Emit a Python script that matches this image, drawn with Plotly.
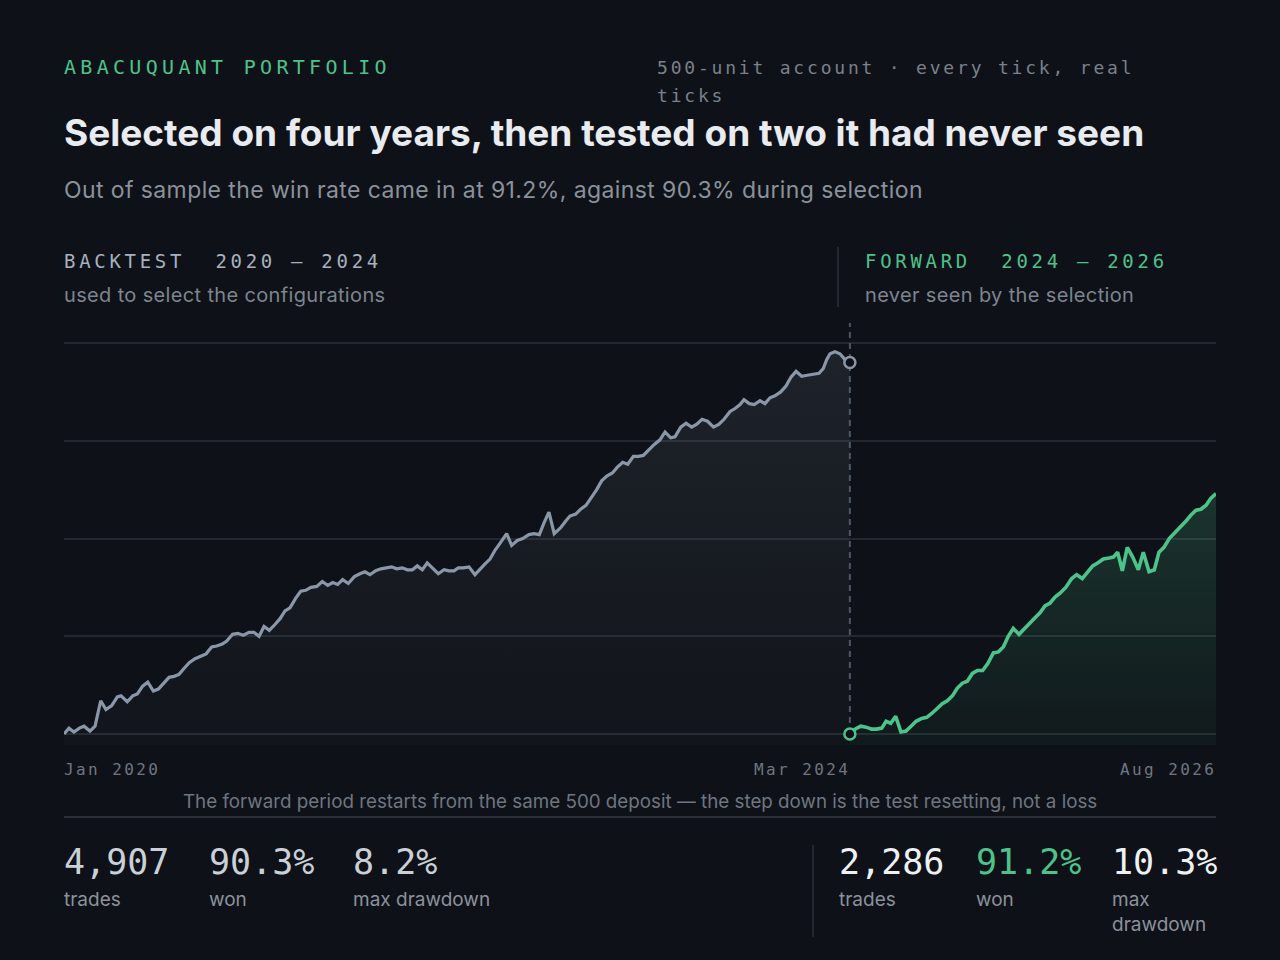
import plotly.graph_objects as go

# equity curve sampled by cumulative trade count (both periods start from a 500 deposit)
backtest_trades = [0, 31, 62, 96, 125, 162, 194, 229, 262, 298,
                   333, 356, 395, 429, 458, 491, 523, 558, 589, 620,
                   656, 687, 718, 749, 782, 818, 854, 887, 922, 953,
                   988, 1016, 1053, 1085, 1120, 1155, 1186, 1218, 1249, 1282,
                   1317, 1349, 1380, 1411, 1447, 1478, 1509, 1542, 1578, 1613,
                   1647, 1678, 1709, 1740, 1775, 1813, 1848, 1879, 1911, 1946,
                   1979, 2015, 2046, 2077, 2112, 2144, 2175, 2206, 2237, 2268,
                   2302, 2337, 2373, 2404, 2435, 2462, 2493, 2529, 2566, 2598,
                   2629, 2660, 2691, 2722, 2764, 2795, 2830, 2864, 2903, 2935,
                   2968, 2997, 3028, 3061, 3101, 3133, 3159, 3195, 3226, 3259,
                   3291, 3326, 3357, 3389, 3424, 3455, 3489, 3520, 3555, 3586,
                   3617, 3653, 3684, 3721, 3753, 3788, 3815, 3851, 3884, 3919,
                   3951, 3984, 4018, 4056, 4090, 4121, 4159, 4190, 4221, 4246,
                   4279, 4310, 4346, 4377, 4408, 4439, 4475, 4508, 4539, 4571,
                   4606, 4641, 4679, 4714, 4741, 4762, 4783, 4814, 4845, 4877, 4907]
backtest_equity = [500, 506, 502, 506, 508, 503, 508, 534, 525, 529,
                   538, 539, 533, 539, 541, 549, 553, 544, 546, 552,
                   558, 559, 561, 567, 573, 577, 580, 582, 589, 590,
                   592, 595, 602, 603, 601, 604, 604, 600, 610, 606,
                   612, 618, 626, 629, 639, 646, 647, 650, 651, 656,
                   652, 655, 653, 658, 654, 661, 664, 666, 663, 667,
                   669, 670, 671, 669, 670, 668, 668, 672, 668, 675,
                   670, 664, 668, 667, 667, 670, 670, 671, 663, 669,
                   674, 679, 688, 695, 705, 693, 698, 700, 704, 705,
                   704, 716, 727, 705, 711, 718, 723, 725, 730, 734,
                   741, 750, 759, 764, 767, 773, 778, 776, 784, 784,
                   785, 791, 796, 801, 809, 803, 804, 814, 818, 814,
                   817, 822, 820, 814, 817, 822, 830, 833, 837, 842,
                   838, 837, 841, 838, 844, 846, 850, 856, 865, 871,
                   866, 867, 868, 869, 874, 883, 889, 891, 889, 883, 880]

forward_trades = [4907, 4939, 4975, 5008, 5043, 5074, 5106, 5133, 5162, 5193,
                  5226, 5257, 5289, 5320, 5355, 5387, 5418, 5453, 5484, 5515,
                  5547, 5578, 5609, 5640, 5672, 5703, 5736, 5768, 5803, 5834,
                  5865, 5896, 5927, 5963, 5996, 6032, 6063, 6094, 6125, 6157,
                  6188, 6219, 6255, 6292, 6323, 6358, 6390, 6423, 6454, 6490,
                  6525, 6552, 6579, 6608, 6639, 6673, 6708, 6739, 6775, 6808,
                  6837, 6868, 6901, 6937, 6973, 7006, 7037, 7068, 7099, 7131,
                  7160, 7193]
forward_equity = [500, 505, 508, 507, 505, 505, 506, 513, 511, 518,
                  502, 503, 508, 513, 516, 517, 521, 526, 531, 534,
                  539, 547, 552, 554, 562, 565, 565, 572, 583, 584,
                  589, 600, 608, 602, 608, 614, 619, 624, 631, 634,
                  640, 644, 650, 659, 663, 659, 666, 672, 675, 679,
                  680, 681, 686, 667, 691, 681, 668, 686, 666, 668,
                  686, 691, 700, 706, 713, 718, 724, 729, 730, 734,
                  741, 746]

grid_values = [500, 600, 700, 800, 900]
tick_trades = [0, 4907, 7193]
tick_labels = ["Jan 2020", "Mar 2024", "Aug 2026"]

backtest_stats = ["4,907", "90.3%", "8.2%"]
backtest_names = ["trades", "won", "max drawdown"]
forward_stats = ["2,286", "91.2%", "10.3%"]
forward_names = ["trades", "won", "max<br>drawdown"]

BG = "#0e1117"
GREEN = "#4cc38a"
SLATE = "#8a97a9"
GRID = "#222831"
RULE = "#2a3039"
MUTED = "#7d8590"
SANS = "Inter, Noto Sans, sans-serif"
MONO = "DejaVu Sans Mono, monospace"

# plot area in page pixels
L, R, T, B = 64, 1216, 323, 745


def px(x):
    return (x - L) / (R - L)


def py(y):
    return (B - y) / (B - T)


fig = go.Figure()

fig.add_trace(go.Scatter(
    x=backtest_trades, y=backtest_equity, mode="lines",
    line=dict(color=SLATE, width=3.2),
    fill="tozeroy",
    fillgradient=dict(type="vertical", start=500, stop=900,
                      colorscale=[[0, "rgba(138,151,169,0.03)"],
                                  [1, "rgba(138,151,169,0.13)"]]),
    hoverinfo="skip",
))
fig.add_trace(go.Scatter(
    x=forward_trades, y=forward_equity, mode="lines",
    line=dict(color=GREEN, width=3.6),
    fill="tozeroy",
    fillgradient=dict(type="vertical", start=500, stop=750,
                      colorscale=[[0, "rgba(76,195,138,0.05)"],
                                  [1, "rgba(76,195,138,0.2)"]]),
    hoverinfo="skip",
))
fig.add_trace(go.Scatter(
    x=[backtest_trades[-1]], y=[backtest_equity[-1]], mode="markers",
    marker=dict(size=11, color=BG, line=dict(color=SLATE, width=2.5)),
    hoverinfo="skip",
))
fig.add_trace(go.Scatter(
    x=[forward_trades[0]], y=[forward_equity[0]], mode="markers",
    marker=dict(size=11, color=BG, line=dict(color=GREEN, width=2.5)),
    hoverinfo="skip",
))

# split marker
fig.add_shape(type="line", xref="x", yref="y", x0=forward_trades[0], x1=forward_trades[0],
              y0=500, y1=920.5, layer="between",
              line=dict(color="#4d5563", width=2, dash="6px,5px"))
# rules
fig.add_shape(type="line", xref="paper", yref="paper", x0=px(64), x1=px(1216),
              y0=py(817), y1=py(817), line=dict(color=RULE, width=2))
fig.add_shape(type="line", xref="paper", yref="paper", x0=px(838), x1=px(838),
              y0=py(247), y1=py(307), line=dict(color=RULE, width=1.5))
fig.add_shape(type="line", xref="paper", yref="paper", x0=px(813), x1=px(813),
              y0=py(845), y1=py(937), line=dict(color=RULE, width=1.5))


def label(text, x, y, size, color, family=SANS, xanchor="left", yanchor="middle",
          spacing=0, weight="normal"):
    if spacing:
        text = f'<span style="letter-spacing:{spacing}px">{text}</span>'
    fig.add_annotation(text=text, x=px(x), y=py(y), xref="paper", yref="paper",
                       xanchor=xanchor, yanchor=yanchor, align="left", showarrow=False,
                       font=dict(family=family, size=size, color=color, weight=weight))


label("ABACUQUANT PORTFOLIO", 62, 67, 20, GREEN, MONO, spacing=4.3)
label("500-unit account · every tick, real", 655, 67, 18, "#7a818b", MONO, spacing=2.8)
label("ticks", 655, 95, 18, "#7a818b", MONO, spacing=2.8)
label("Selected on four years, then tested on two it had never seen", 62, 132, 37,
      "#e8ebef", weight="bold")
label("Out of sample the win rate came in at 91.2%, against 90.3% during selection",
      62, 190, 23, "#8b929c", spacing=0.4)

label("BACKTEST\u00a0 2020 – 2024", 62, 261, 19, "#a7b1bf", MONO, spacing=3.7)
label("used to select the configurations", 62, 295, 20, MUTED, spacing=0.35)
label("FORWARD\u00a0 2024 – 2026", 863, 261, 19, GREEN, MONO, spacing=3.7)
label("never seen by the selection", 863, 295, 20, MUTED, spacing=0.35)

for t, txt, anchor in zip(tick_trades, tick_labels, ["left", "right", "right"]):
    fig.add_annotation(text=f'<span style="letter-spacing:2.4px">{txt}</span>',
                       x=t, y=py(769), xref="x", yref="paper",
                       xanchor=anchor, yanchor="middle", showarrow=False,
                       xshift=-2 if anchor == "left" else 2,
                       font=dict(family=MONO, size=16, color="#6e7681"))

label("The forward period restarts from the same 500 deposit — the step down is the test "
      "resetting, not a loss", 640, 801, 18.8, "#6e7681", xanchor="center")

for x, val, name in zip([64, 209, 353], backtest_stats, backtest_names):
    label(val, x - 2, 862, 35, "#c9d0d8", MONO)
    label(name, x - 2, 886, 19, "#8b929c", yanchor="top")
for x, val, name, col in zip([839, 976, 1112], forward_stats, forward_names,
                             ["#eef1f4", GREEN, "#eef1f4"]):
    label(val, x - 2, 862, 35, col, MONO)
    label(name, x - 2, 886, 19, "#8b929c", yanchor="top")

fig.update_layout(
    width=1280, height=960,
    paper_bgcolor=BG, plot_bgcolor=BG,
    margin=dict(l=L, r=1280 - R, t=T, b=960 - B),
    showlegend=False, hovermode=False,
    xaxis=dict(range=[0, 7193], visible=False),
    yaxis=dict(range=[488.75, 920.5], tickvals=grid_values, showticklabels=False,
               gridcolor=GRID, gridwidth=2, zeroline=False, showline=False, ticks=""),
)

fig.write_html("out.html", config={"displayModeBar": False},
               post_script="document.body.style.margin='0';")
